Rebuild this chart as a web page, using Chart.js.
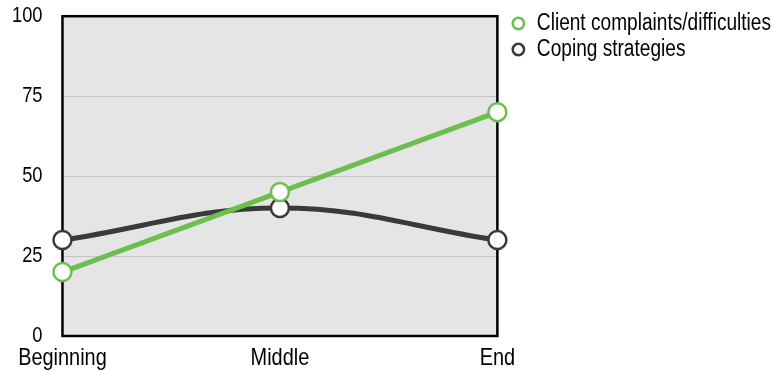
<!DOCTYPE html>
<html>
<head>
<meta charset="utf-8">
<script src="https://cdn.jsdelivr.net/npm/chart.js@4"></script>
<style>
  html, body { margin: 0; padding: 0; background: #fff; }
  #wrap { width: 772px; height: 371px; }
</style>
</head>
<body>
<div id="wrap"><canvas id="grafico"></canvas></div>
<script>
var fasi = ['Beginning', 'Middle', 'End'];
var lamentele = [20, 45, 70];
var strategie = [30, 40, 30];
var tickY = [0, 25, 50, 75, 100];

// testo stretto: nessun font "narrow" disponibile, quindi schiaccio il testo in orizzontale
var STRETTO = 0.83;
var canvas = document.getElementById('grafico');
var ctx = canvas.getContext('2d');
var fillOrig = ctx.fillText;
var measureOrig = ctx.measureText;
ctx.fillText = function (testo, x, y) {
    this.save();
    this.translate(x, y);
    this.scale(STRETTO, 1);
    fillOrig.call(this, testo, 0, 0);
    this.restore();
};
ctx.measureText = function (testo) {
    var m = measureOrig.call(this, testo);
    return {
        width: m.width * STRETTO,
        actualBoundingBoxAscent: m.actualBoundingBoxAscent,
        actualBoundingBoxDescent: m.actualBoundingBoxDescent,
        actualBoundingBoxLeft: m.actualBoundingBoxLeft * STRETTO,
        actualBoundingBoxRight: m.actualBoundingBoxRight * STRETTO
    };
};

// sfondo grigio e cornice nera dell'area del grafico
var cornice = {
    id: 'cornice',
    beforeDraw: function (chart) {
        var a = chart.chartArea, c = chart.ctx;
        c.save();
        c.fillStyle = '#e5e5e5';
        c.fillRect(a.left, a.top, a.right - a.left, a.bottom - a.top);
        c.restore();
    },
    beforeDatasetsDraw: function (chart) {
        var a = chart.chartArea, c = chart.ctx;
        c.save();
        c.strokeStyle = '#000';
        c.lineWidth = 2.5;
        c.strokeRect(a.left, a.top, a.right - a.left, a.bottom - a.top);
        c.restore();
    }
};

Chart.defaults.font.family = '"Liberation Sans", Arial, sans-serif';
Chart.defaults.font.size = 22;
Chart.defaults.color = '#000';

new Chart(canvas, {
    type: 'line',
    data: {
        labels: fasi,
        datasets: [{
            label: 'Client complaints/difficulties',
            data: lamentele,
            borderColor: '#6cbf4f',
            borderWidth: 5,
            tension: 0,
            pointRadius: 9,
            pointHoverRadius: 9,
            pointBackgroundColor: '#fff',
            pointBorderColor: '#6cbf4f',
            pointBorderWidth: 2.5,
            clip: false
        }, {
            label: 'Coping strategies',
            data: strategie,
            borderColor: '#3a3a3a',
            borderWidth: 5,
            tension: 0.4,
            pointRadius: 9,
            pointHoverRadius: 9,
            pointBackgroundColor: '#fff',
            pointBorderColor: '#3a3a3a',
            pointBorderWidth: 2.5,
            clip: false
        }]
    },
    options: {
        responsive: true,
        maintainAspectRatio: false,
        animation: false,
        layout: { padding: { top: 9, left: 9, bottom: 0, right: -9 } },
        plugins: {
            tooltip: { enabled: false },
            legend: {
                position: 'right',
                align: 'start',
                maxWidth: 300,
                labels: {
                    usePointStyle: true,
                    pointStyle: 'circle',
                    boxWidth: 14,
                    boxHeight: 8,
                    padding: 3,
                    font: { size: 23 }
                }
            }
        },
        scales: {
            x: {
                offset: false,
                grid: { display: false, drawTicks: false },
                border: { display: false },
                ticks: { padding: 8, maxRotation: 0, font: { size: 24 } },
                afterFit: function (axis) { axis.height = 35; }
            },
            y: {
                min: 0,
                max: 100,
                afterBuildTicks: function (axis) {
                    axis.ticks = tickY.map(function (v) { return { value: v }; });
                },
                grid: { color: '#c4c4c4', lineWidth: 1, tickLength: 17, tickColor: 'rgba(0,0,0,0)' },
                border: { display: false },
                ticks: { padding: 3 }
            },
            // spazio vuoto tra area del grafico e legenda
            spazio: {
                position: 'right',
                grid: { display: false },
                border: { display: false },
                ticks: { display: false },
                afterFit: function (axis) { axis.width = 11; }
            }
        }
    },
    plugins: [cornice]
});
</script>
</body>
</html>
